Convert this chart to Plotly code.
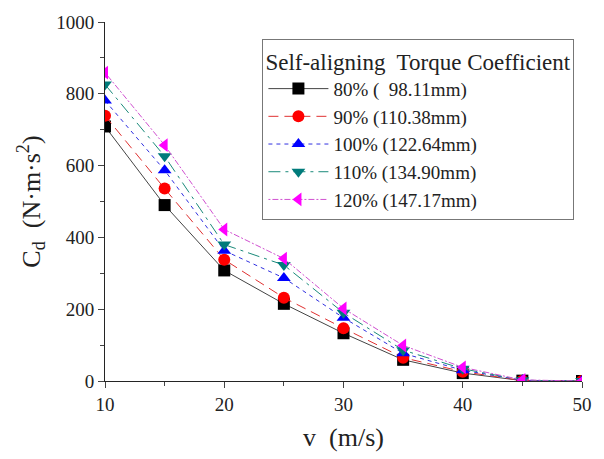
import plotly.graph_objects as go

v = [10, 15, 20, 25, 30, 35, 40, 45, 50]
cd_80 = [709, 490, 308, 215, 133, 59, 22, 1, 0]
cd_90 = [739, 536, 338, 232, 147, 65, 26, 1, 0]
cd_100 = [781, 587, 363, 287, 176, 77, 30, 2, 0]
cd_110 = [826, 626, 380, 323, 190, 86, 34, 2, 0]
cd_120 = [859, 657, 422, 341, 202, 99, 38, 3, 0]

names = ["80% (  98.11mm)", "90% (110.38mm)", "100% (122.64mm)",
         "110% (134.90mm)", "120% (147.17mm)"]
series = [cd_80, cd_90, cd_100, cd_110, cd_120]
colors = ["#000000", "#ff0000", "#0000ff", "#007b7b", "#ff00ff"]
line_colors = ["#444444", "#e03030", "#3030e0", "#1a8a7a", "#d050d0"]
dashes = ["solid", "10px,6px", "4px,4px", "12px,5px,3px,5px", "2px,2px,6px,2px"]
symbols = ["square", "circle", "triangle-up", "triangle-down", "triangle-left"]

FF = "Times New Roman"

fig = go.Figure()
for n, s, c, lc, d, sym in zip(names, series, colors, line_colors, dashes, symbols):
    fig.add_trace(go.Scatter(
        x=v, y=s, name=n, mode="lines+markers",
        line=dict(color=lc, width=1, dash=d),
        marker=dict(symbol=sym, color=c, size=12, line=dict(width=0)),
    ))

fig.update_layout(
    template="simple_white",
    width=604, height=459,
    margin=dict(l=105, r=12, t=17, b=78),
    font=dict(family=FF, size=19, color="#222222"),
    legend=dict(
        x=0.33, y=0.953, xanchor="left", yanchor="top",
        bordercolor="#777777", borderwidth=1,
        title=dict(text="Self-aligning  Torque Coefficient", side="top"),
        itemwidth=60, tracegroupgap=0,
    ),
    xaxis=dict(
        range=[10, 50], tick0=10, dtick=10,
        ticks="outside", ticklen=6,
        minor=dict(tickvals=[15, 25, 35, 45], ticks="outside", ticklen=4),
        title=dict(text="v  (m/s)", font=dict(family=FF, size=26), standoff=14),
    ),
    yaxis=dict(
        range=[0, 1000], tick0=0, dtick=200,
        ticks="outside", ticklen=6,
        minor=dict(tickvals=[100, 300, 500, 700, 900], ticks="outside", ticklen=4),
        title=dict(text="C<sub>d</sub>  (N·m·s<sup>2</sup>)", font=dict(family=FF, size=26), standoff=8),
    ),
)

fig.write_html("out.html")
